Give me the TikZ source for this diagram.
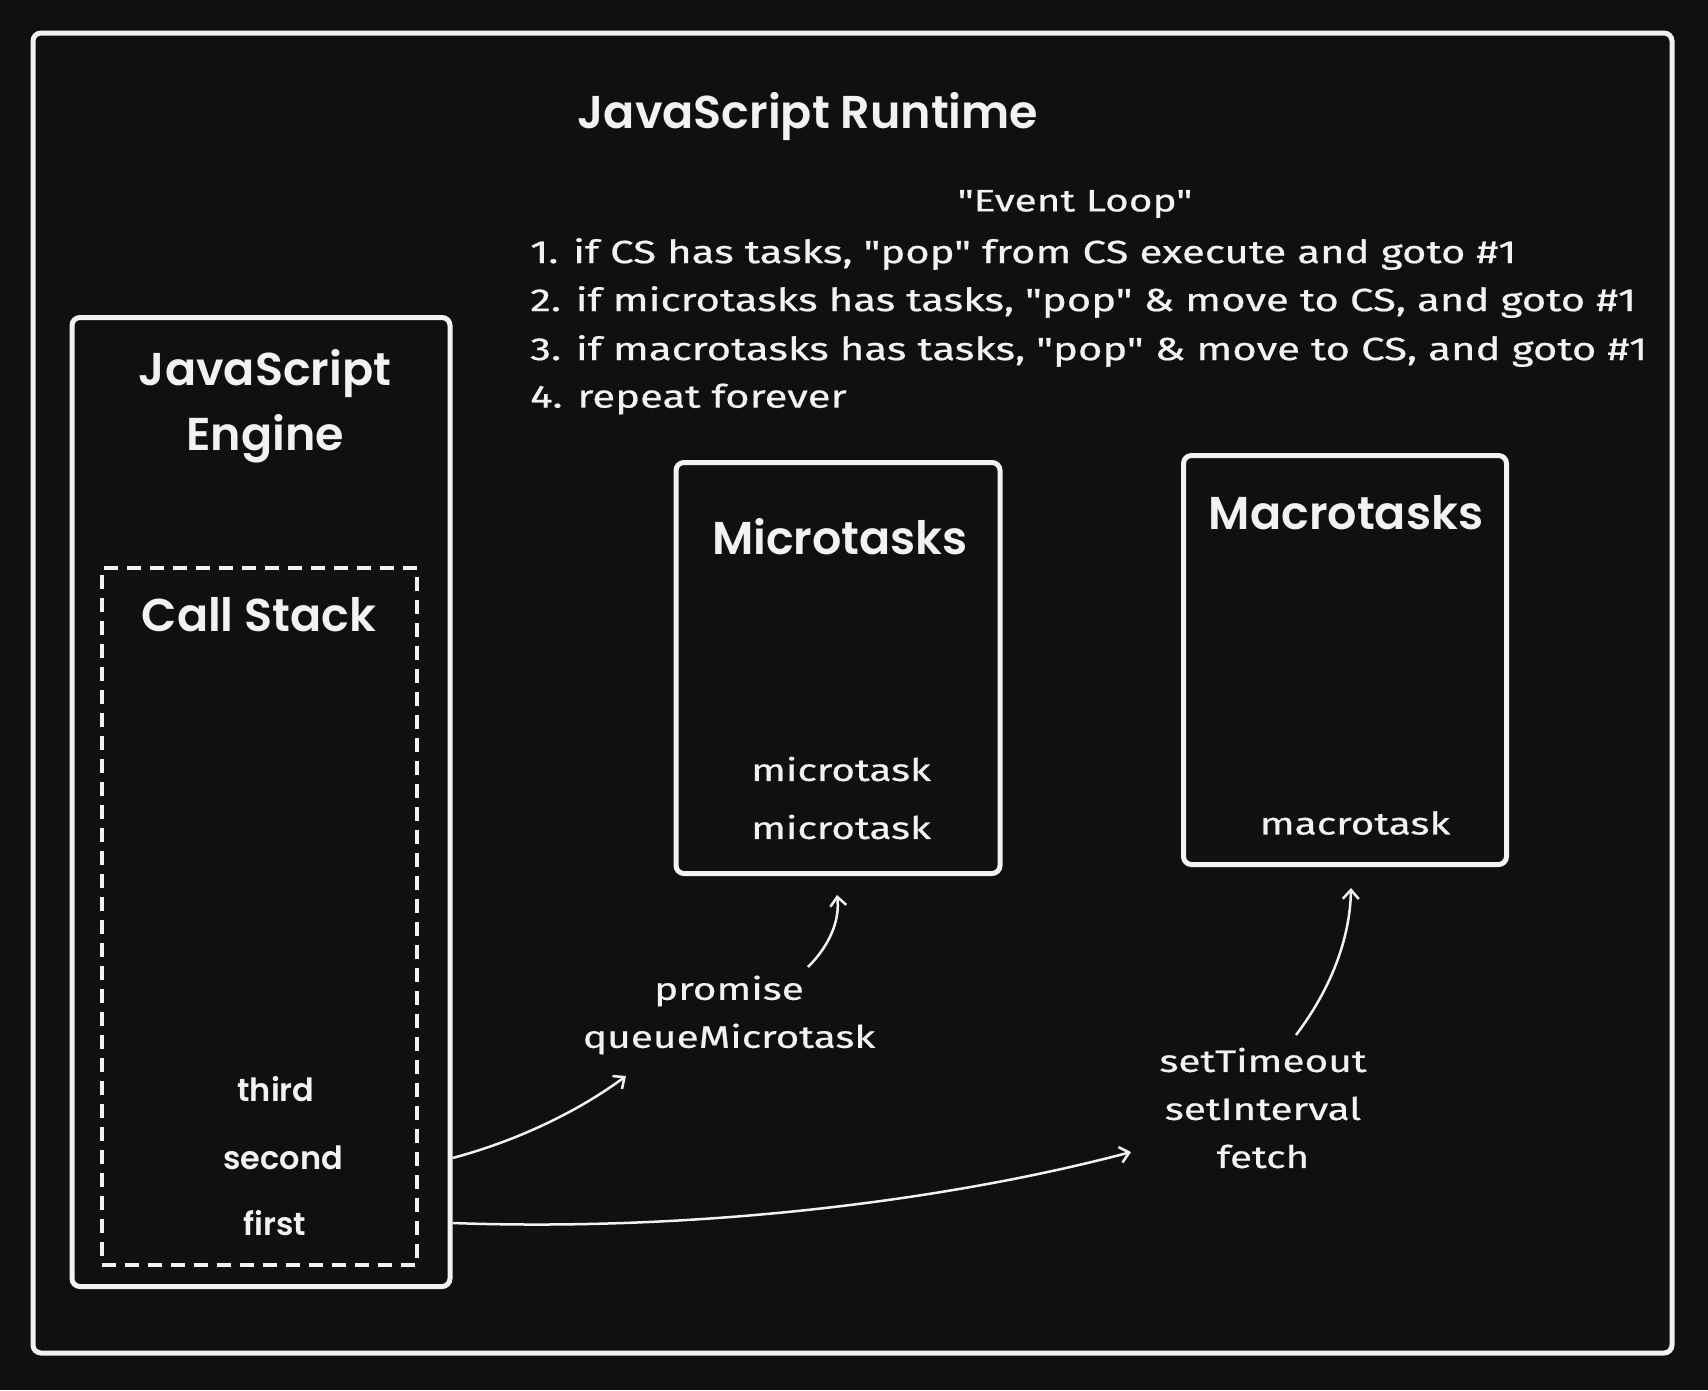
\documentclass[tikz,border=0pt]{standalone}
\usepackage{fontspec}
\newfontfamily\bodyfont{Fira Sans}[FakeStretch=1.31,FakeBold=0.6]
\newfontfamily\headfont{Poppins}[UprightFont=* SemiBold]
\usetikzlibrary{arrows.meta,calc,positioning}
\definecolor{BG}{HTML}{0F1012}
\definecolor{CHALK}{HTML}{F2F2F2}

\begin{document}
\begin{tikzpicture}[x=1pt,y=-1pt]
\tikzset{frame/.style={draw=CHALK,line width=5pt,rounded corners=8pt,inner sep=0pt},
 stackbox/.style={draw=CHALK,line width=4pt,dash pattern=on 14pt off 9pt,inner sep=0pt},
 head/.style={text=CHALK,font=\headfont\fontsize{46}{65}\selectfont,align=center,inner sep=0pt},
 item/.style={text=CHALK,font=\headfont\fontsize{32}{36}\selectfont,inner sep=0pt},
 txt/.style={text=CHALK,font=\bodyfont\fontsize{31}{48}\selectfont,inner sep=0pt},
 rule/.style={txt,font=\bodyfont\fontsize{32}{48}\selectfont,anchor=west},
 flow/.style={-{Straight Barb[length=9pt,width=16pt]},draw=CHALK,line width=2.5pt}}
\fill[BG] (0,0) rectangle (1708,1390);
\useasboundingbox (0,0) rectangle (1708,1390);
\draw[frame] (33,33) rectangle (1672,1353);
% titles and rules
\node[head] (runtime) at (808,117) {JavaScript Runtime};
\node[txt] (loop) at (1075,204) {"Event Loop"};
\node[rule] (rule1) at (530,254) {1. if CS has tasks, "pop" from CS execute and goto \#1};
\node[rule] (rule2) at (530,302) {2. if microtasks has tasks, "pop" \& move to CS, and goto \#1};
\node[rule] (rule3) at (530,351) {3. if macrotasks has tasks, "pop" \& move to CS, and goto \#1};
\node[rule] (rule4) at (530,399) {4. repeat forever};
% engine and call stack
\node[frame,minimum width=378pt,minimum height=969pt] (engine) at (261,802) {};
\node[head] (engname) at (265,406) {JavaScript\\Engine};
\node[stackbox,minimum width=315pt,minimum height=697pt] (stack) at (259,916) {};
\node[head] (stackname) at (259,615) {Call Stack};
\node[item] (third) at (276,1089) {third};
\node[item] (second) at (283,1158) {second};
\node[item] (first) at (275,1223) {first};
% queues
\node[frame,minimum width=324pt,minimum height=411pt] (micro) at (838,668) {};
\node[head] (microname) at (840,537) {Microtasks};
\node[txt] (mt1) at (841,769) {microtask};
\node[txt] (mt2) at (841,827) {microtask};
\node[frame,minimum width=323pt,minimum height=409pt] (macro) at (1345,660) {};
\node[head] (macroname) at (1346,513) {Macrotasks};
\node[txt] (mk1) at (1355,823) {macrotask};
% sources
\node[txt,align=center] (microsrc) at (729,1015) {promise\\queueMicrotask};
\node[txt,align=center] (macrosrc) at (1263,1108) {setTimeout\\setInterval\\fetch};
\coordinate (toMicrosrc) at (626,1076);
\coordinate (toMacrosrc) at (1131,1152);
\coordinate (intoMicro) at (837,895);
\coordinate (intoMacro) at (1351,888);
\coordinate (fromMicrosrc) at (808,967);
\coordinate (fromMacrosrc) at (1296,1035);
\draw[flow] (engine.east |- second) .. controls (520,1140) and (580,1110) .. (toMicrosrc);
\draw[flow] (engine.east |- first) .. controls (700,1232) and (950,1200) .. (toMacrosrc);
\draw[flow] (fromMicrosrc) .. controls (830,945) and (840,920) .. (intoMicro);
\draw[flow] (fromMacrosrc) .. controls (1330,990) and (1350,940) .. (intoMacro);
\end{tikzpicture}
\end{document}
